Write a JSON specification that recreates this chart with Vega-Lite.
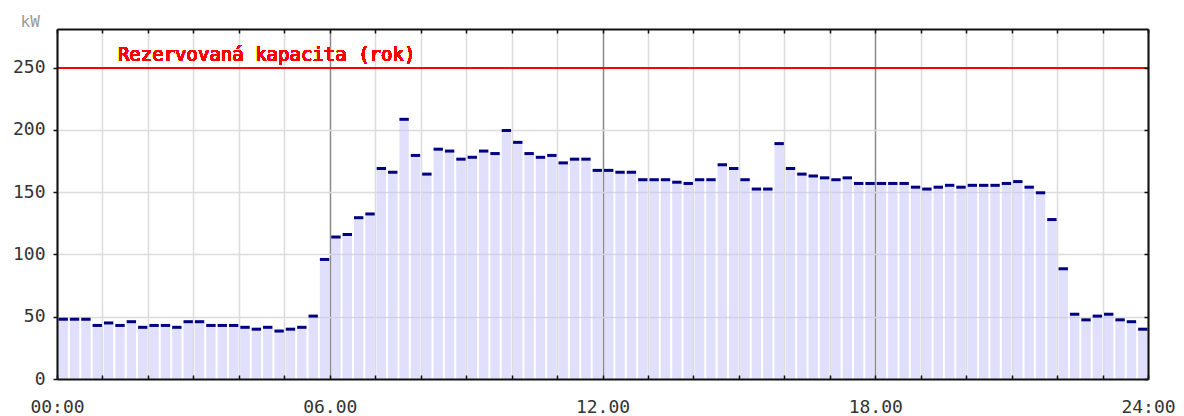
{
  "$schema": "https://vega.github.io/schema/vega-lite/v6.json",
  "width": 1091,
  "height": 350,
  "autosize": "none",
  "padding": {"left": 57, "top": 29, "right": 36, "bottom": 37},
  "background": "#ffffff",
  "config": {
    "view": {"stroke": null},
    "axis": {"labelFont": "DejaVu Sans Mono", "labelFontSize": 18, "labelColor": "#333333", "titleFont": "DejaVu Sans Mono"}
  },
  "data": {"values": [
    {"t": 0, "kw": 48}, {"t": 0.25, "kw": 48}, {"t": 0.5, "kw": 48}, {"t": 0.75, "kw": 43},
    {"t": 1, "kw": 45}, {"t": 1.25, "kw": 43}, {"t": 1.5, "kw": 46}, {"t": 1.75, "kw": 41.5},
    {"t": 2, "kw": 43}, {"t": 2.25, "kw": 43}, {"t": 2.5, "kw": 41.5}, {"t": 2.75, "kw": 46},
    {"t": 3, "kw": 46}, {"t": 3.25, "kw": 43}, {"t": 3.5, "kw": 43}, {"t": 3.75, "kw": 43},
    {"t": 4, "kw": 41.5}, {"t": 4.25, "kw": 40}, {"t": 4.5, "kw": 41.5}, {"t": 4.75, "kw": 38.5},
    {"t": 5, "kw": 40}, {"t": 5.25, "kw": 41.5}, {"t": 5.5, "kw": 50.5}, {"t": 5.75, "kw": 96},
    {"t": 6, "kw": 114}, {"t": 6.25, "kw": 116}, {"t": 6.5, "kw": 129.5}, {"t": 6.75, "kw": 132.5},
    {"t": 7, "kw": 169}, {"t": 7.25, "kw": 166}, {"t": 7.5, "kw": 208.5}, {"t": 7.75, "kw": 179.5},
    {"t": 8, "kw": 164.5}, {"t": 8.25, "kw": 184.5}, {"t": 8.5, "kw": 183}, {"t": 8.75, "kw": 176.5},
    {"t": 9, "kw": 178}, {"t": 9.25, "kw": 183}, {"t": 9.5, "kw": 181}, {"t": 9.75, "kw": 199.5},
    {"t": 10, "kw": 190}, {"t": 10.25, "kw": 181}, {"t": 10.5, "kw": 178}, {"t": 10.75, "kw": 179.5},
    {"t": 11, "kw": 173.5}, {"t": 11.25, "kw": 176.5}, {"t": 11.5, "kw": 176.5}, {"t": 11.75, "kw": 167.5},
    {"t": 12, "kw": 167.5}, {"t": 12.25, "kw": 166}, {"t": 12.5, "kw": 166}, {"t": 12.75, "kw": 160},
    {"t": 13, "kw": 160}, {"t": 13.25, "kw": 160}, {"t": 13.5, "kw": 158}, {"t": 13.75, "kw": 157},
    {"t": 14, "kw": 160}, {"t": 14.25, "kw": 160}, {"t": 14.5, "kw": 172}, {"t": 14.75, "kw": 169},
    {"t": 15, "kw": 160}, {"t": 15.25, "kw": 152.5}, {"t": 15.5, "kw": 152.5}, {"t": 15.75, "kw": 189},
    {"t": 16, "kw": 169}, {"t": 16.25, "kw": 164.5}, {"t": 16.5, "kw": 163}, {"t": 16.75, "kw": 161.5},
    {"t": 17, "kw": 160}, {"t": 17.25, "kw": 161.5}, {"t": 17.5, "kw": 157}, {"t": 17.75, "kw": 157},
    {"t": 18, "kw": 157}, {"t": 18.25, "kw": 157}, {"t": 18.5, "kw": 157}, {"t": 18.75, "kw": 154},
    {"t": 19, "kw": 152.5}, {"t": 19.25, "kw": 154}, {"t": 19.5, "kw": 155.5}, {"t": 19.75, "kw": 154},
    {"t": 20, "kw": 155.5}, {"t": 20.25, "kw": 155.5}, {"t": 20.5, "kw": 155.5}, {"t": 20.75, "kw": 157},
    {"t": 21, "kw": 158.5}, {"t": 21.25, "kw": 154}, {"t": 21.5, "kw": 149.5}, {"t": 21.75, "kw": 128},
    {"t": 22, "kw": 88.5}, {"t": 22.25, "kw": 52}, {"t": 22.5, "kw": 47.5}, {"t": 22.75, "kw": 50.5},
    {"t": 23, "kw": 52}, {"t": 23.25, "kw": 47.5}, {"t": 23.5, "kw": 46}, {"t": 23.75, "kw": 40}
  ]},
  "resolve": {"axis": {"x": "independent", "y": "independent"}},
  "layer": [
    {
      "mark": {"type": "bar", "fill": "#c1c1f9", "fillOpacity": 0.5, "binSpacing": 2},
      "encoding": {
        "x": {"field": "t", "type": "quantitative", "bin": {"binned": true, "step": 0.25},
          "scale": {"domain": [0, 24], "nice": false, "zero": false},
          "axis": {"orient": "bottom", "values": [0,1,2,3,4,5,6,7,8,9,10,11,12,13,14,15,16,17,18,19,20,21,22,23,24],
            "grid": true, "gridColor": {"condition": {"test": "datum.value % 6 === 0", "value": "#8a8a8a"}, "value": "#dcdcdc"},
            "gridWidth": 1.5, "domain": false,
            "ticks": false,
            "labelExpr": "datum.value === 0 ? '00:00' : datum.value === 24 ? '24:00' : datum.value % 6 === 0 ? ((datum.value < 10 ? '0' : '') + datum.value + '.00') : ''",
            "labelOverlap": false, "labelFlush": false, "labelPadding": 19, "title": null, "zindex": 0}},
        "y": {"field": "kw", "type": "quantitative",
          "scale": {"domain": [0, 281], "nice": false},
          "axis": {"orient": "left", "values": [0, 50, 100, 150, 200, 250],
            "grid": true, "gridColor": {"condition": {"test": "datum.value === 250 || datum.value === 0", "value": "transparent"}, "value": "#dcdcdc"},
            "gridWidth": 1.5, "domain": false,
            "tickSize": 4, "tickColor": "#111111", "tickWidth": 1.5, "labelPadding": 8,
            "title": "kW", "titleAngle": 0, "titleAlign": "left", "titleBaseline": "alphabetic",
            "titleX": -37, "titleY": -3, "titleColor": "#999999", "titleFontSize": 16, "titleFontWeight": "normal",
            "zindex": 0}}
      }
    },
    {
      "mark": {"type": "bar", "color": "#000080", "binSpacing": 2, "yOffset": -1.5, "y2Offset": 1.5},
      "encoding": {
        "x": {"field": "t", "type": "quantitative", "bin": {"binned": true, "step": 0.25},
          "axis": {"orient": "top", "values": [0,1,2,3,4,5,6,7,8,9,10,11,12,13,14,15,16,17,18,19,20,21,22,23,24],
            "grid": false, "labels": false, "domain": true, "domainColor": "#111111", "domainWidth": 2,
            "tickSize": -4, "tickColor": "#111111", "tickWidth": 1.5, "title": null, "zindex": 1}},
        "y": {"field": "kw", "type": "quantitative",
          "axis": {"orient": "right", "values": [0, 50, 100, 150, 200, 250],
            "grid": false, "labels": false, "domain": true, "domainColor": "#111111", "domainWidth": 2,
            "tickSize": -4, "tickColor": "#111111", "tickWidth": 1.5, "title": null, "zindex": 1}},
        "y2": {"field": "kw"}
      }
    },
    {
      "mark": {"type": "rule", "color": "#ff0000", "strokeWidth": 1.2},
      "encoding": {"y": {"datum": 250, "type": "quantitative", "axis": null}}
    },
    {
      "mark": {"type": "text", "text": "Rezervovaná kapacita (rok)", "fill": "#ff0000", "stroke": null, "fontWeight": "normal", "font": "DejaVu Sans Mono", "fontSize": 19, "align": "left", "baseline": "alphabetic", "dy": -7},
      "encoding": {
        "x": {"datum": 1.34, "type": "quantitative", "axis": null},
        "y": {"datum": 250, "type": "quantitative", "axis": null}
      }
    },
    {
      "mark": {"type": "bar", "fillOpacity": 0, "strokeOpacity": 0},
      "encoding": {
        "x": {"field": "t", "type": "quantitative", "bin": {"binned": true, "step": 0.25},
          "axis": {"orient": "bottom", "values": [0,1,2,3,4,5,6,7,8,9,10,11,12,13,14,15,16,17,18,19,20,21,22,23,24],
            "grid": false, "labels": false, "domain": true, "domainColor": "#111111", "domainWidth": 2,
            "tickSize": -4, "tickColor": "#111111", "tickWidth": 1.5, "title": null, "zindex": 1}},
        "y": {"field": "kw", "type": "quantitative",
          "axis": {"orient": "left", "values": [0, 50, 100, 150, 200, 250],
            "grid": false, "labels": false, "domain": true, "domainColor": "#111111", "domainWidth": 2,
            "ticks": false, "title": null, "zindex": 1}}
      }
    }
  ]
}
